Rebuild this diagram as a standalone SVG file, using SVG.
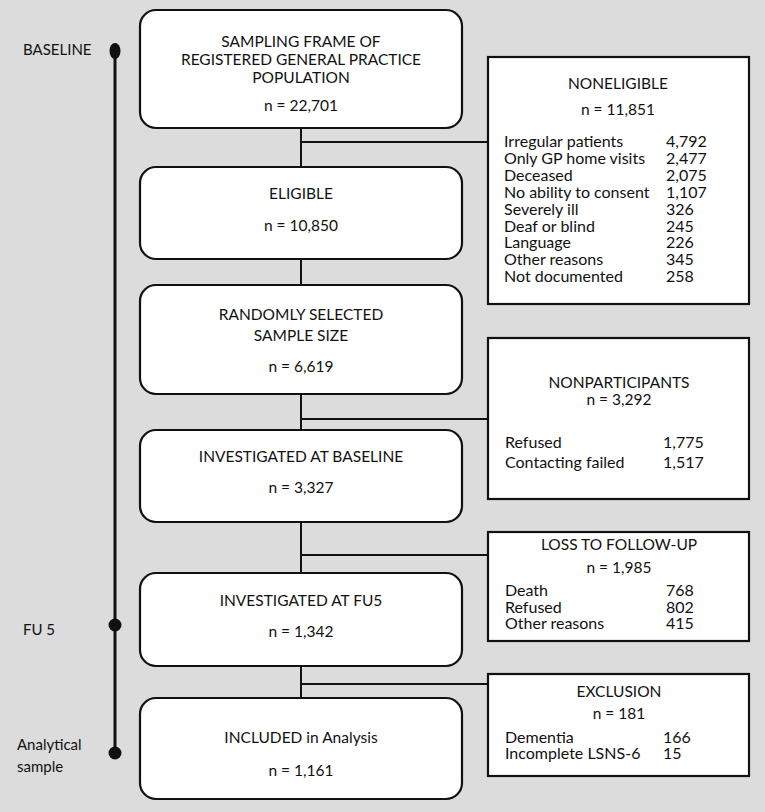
<svg xmlns="http://www.w3.org/2000/svg" width="765" height="812" viewBox="0 0 765 812">
<style>
text{font-family:Lato,"Open Sans","Liberation Sans",sans-serif;fill:#111;}
.c{text-anchor:middle;font-size:15.5px;}
.t{font-size:15px;}
.l{font-size:16px;}
.main{fill:#fff;stroke:#111;stroke-width:2.2;}
.side{fill:#fff;stroke:#111;stroke-width:2.2;}
.con{stroke:#111;stroke-width:2;fill:none;}
</style>
<rect x="0" y="0" width="765" height="812" fill="#dcdcdc"/>
<g id="timeline">
<line x1="115" y1="51" x2="115" y2="753" stroke="#111" stroke-width="3"/>
<ellipse cx="115" cy="51" rx="5.5" ry="8" fill="#111"/>
<circle cx="115" cy="625" r="6.5" fill="#111"/>
<circle cx="115" cy="753" r="6.5" fill="#111"/>
<text class="t" x="23" y="55">BASELINE</text>
<text class="t" x="23" y="635">FU 5</text>
<text class="t" x="17" y="750">Analytical</text>
<text class="t" x="17" y="772">sample</text>
</g>
<g id="connectors">
<path class="con" d="M301 128V167M301 142H488M301 259V285M301 394V430M301 419H488M301 522V573M301 555H488M301 666V698M301 684H488"/>
</g>
<g id="n1">
<rect class="main" x="140" y="10" width="322" height="118" rx="16"/>
<text class="c" x="301" y="47">SAMPLING FRAME OF</text>
<text class="c" x="301" y="65">REGISTERED GENERAL PRACTICE</text>
<text class="c" x="301" y="83">POPULATION</text>
<text class="c" x="301" y="111">n = 22,701</text>
</g>
<g id="n2">
<rect class="main" x="140" y="167" width="322" height="92" rx="16"/>
<text class="c" x="301" y="199">ELIGIBLE</text>
<text class="c" x="301" y="231">n = 10,850</text>
</g>
<g id="n3">
<rect class="main" x="140" y="285" width="322" height="109" rx="16"/>
<text class="c" x="301" y="320">RANDOMLY SELECTED</text>
<text class="c" x="301" y="341">SAMPLE SIZE</text>
<text class="c" x="301" y="372">n = 6,619</text>
</g>
<g id="n4">
<rect class="main" x="140" y="430" width="322" height="92" rx="16"/>
<text class="c" x="301" y="462">INVESTIGATED AT BASELINE</text>
<text class="c" x="301" y="493">n = 3,327</text>
</g>
<g id="n5">
<rect class="main" x="140" y="573" width="322" height="93" rx="16"/>
<text class="c" x="301" y="606">INVESTIGATED AT FU5</text>
<text class="c" x="301" y="637">n = 1,342</text>
</g>
<g id="n6">
<rect class="main" x="140" y="698" width="322" height="101" rx="16"/>
<text class="c" x="301" y="743">INCLUDED in Analysis</text>
<text class="c" x="301" y="776">n = 1,161</text>
</g>
<g id="noneligible">
<rect class="side" x="488" y="57" width="261" height="247"/>
<text class="c" x="618" y="89">NONELIGIBLE</text>
<text class="c" x="618" y="115">n = 11,851</text>
<text class="l" x="504" y="147">Irregular patients</text><text class="l" x="666" y="147">4,792</text>
<text class="l" x="504" y="164">Only GP home visits</text><text class="l" x="666" y="164">2,477</text>
<text class="l" x="504" y="181">Deceased</text><text class="l" x="666" y="181">2,075</text>
<text class="l" x="504" y="198">No ability to consent</text><text class="l" x="666" y="198">1,107</text>
<text class="l" x="504" y="215">Severely ill</text><text class="l" x="666" y="215">326</text>
<text class="l" x="504" y="232">Deaf or blind</text><text class="l" x="666" y="232">245</text>
<text class="l" x="504" y="248">Language</text><text class="l" x="666" y="248">226</text>
<text class="l" x="504" y="265">Other reasons</text><text class="l" x="666" y="265">345</text>
<text class="l" x="504" y="282">Not documented</text><text class="l" x="666" y="282">258</text>
</g>
<g id="nonparticipants">
<rect class="side" x="488" y="338" width="261" height="161"/>
<text class="c" x="619" y="388">NONPARTICIPANTS</text>
<text class="c" x="619" y="405">n = 3,292</text>
<text class="l" x="505" y="448">Refused</text><text class="l" x="663" y="448">1,775</text>
<text class="l" x="505" y="468">Contacting failed</text><text class="l" x="663" y="468">1,517</text>
</g>
<g id="loss">
<rect class="side" x="488" y="532" width="261" height="109"/>
<text class="c" x="619" y="550">LOSS TO FOLLOW-UP</text>
<text class="c" x="619" y="573">n = 1,985</text>
<text class="l" x="505" y="596">Death</text><text class="l" x="666" y="596">768</text>
<text class="l" x="505" y="613">Refused</text><text class="l" x="666" y="613">802</text>
<text class="l" x="505" y="629">Other reasons</text><text class="l" x="666" y="629">415</text>
</g>
<g id="exclusion">
<rect class="side" x="488" y="674" width="261" height="102"/>
<text class="c" x="619" y="697">EXCLUSION</text>
<text class="c" x="619" y="719">n = 181</text>
<text class="l" x="505" y="743">Dementia</text><text class="l" x="663" y="743">166</text>
<text class="l" x="505" y="759">Incomplete LSNS-6</text><text class="l" x="663" y="759">15</text>
</g>
</svg>
